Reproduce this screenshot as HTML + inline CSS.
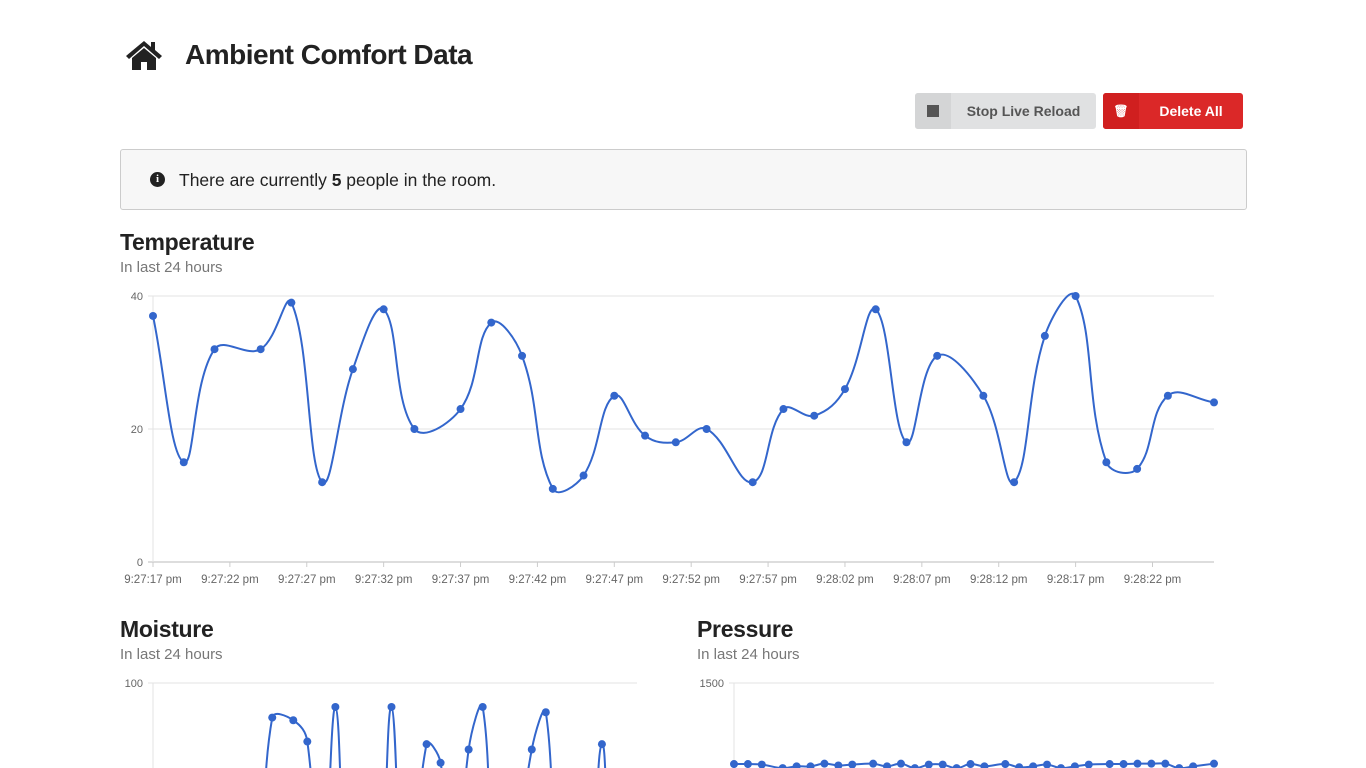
<!DOCTYPE html>
<html><head><meta charset="utf-8"><style>
html,body{margin:0;padding:0;width:1366px;height:768px;overflow:hidden;background:#fff;font-family:"Liberation Sans",sans-serif;color:#222}
.abs{position:absolute}
h1{position:absolute;left:185px;top:39px;margin:0;font-size:28px;font-weight:bold;letter-spacing:-0.5px}
.btn{position:absolute;top:93px;height:36px;border-radius:3px;font-size:14px;font-weight:bold;display:flex;align-items:center}
.info{position:absolute;left:120px;top:149px;width:1125px;height:59px;background:#f7f7f7;border:1px solid #ccc;border-radius:3px}
.ttl{position:absolute;font-size:23px;font-weight:bold;margin:0;letter-spacing:-0.3px}
.sub{position:absolute;font-size:15px;color:#777}
</style></head><body>
<svg class="abs" style="left:125px;top:39px" width="38" height="32" viewBox="0 0 38 32"><path d="M19 2 L1 17 L4 20 L19 7 L34 20 L37 17 L30 11 L30 3 L26 3 L26 8 Z" fill="#222"/><path d="M7 19 L19 9 L31 19 L31 31 L22 31 L22 23 L16 23 L16 31 L7 31 Z" fill="#222"/></svg>
<h1>Ambient Comfort Data</h1>
<div class="btn" style="left:915px;width:181px;background:#e0e1e2;color:#555"><div style="width:36px;height:36px;background:#d4d5d6;border-radius:3px 0 0 3px;display:flex;align-items:center;justify-content:center"><div style="width:12px;height:12px;background:#555"></div></div><span style="flex:1;text-align:center">Stop Live Reload</span></div>
<div class="btn" style="left:1103px;width:140px;background:#db2828;color:#fff"><div style="width:36px;height:36px;background:#d01f1f;border-radius:3px 0 0 3px;display:flex;align-items:center;justify-content:center;font-size:12px">🗑</div><span style="flex:1;text-align:center">Delete All</span></div>
<div class="info"><div style="position:absolute;left:29px;top:22px;width:15px;height:15px;border-radius:50%;background:#222;color:#fff;font-size:11px;font-weight:bold;text-align:center;line-height:15px;font-family:'Liberation Serif',serif">i</div><div style="position:absolute;left:58px;top:20px;font-size:17.5px">There are currently <b>5</b> people in the room.</div></div>
<div class="ttl" style="left:120px;top:229px">Temperature</div>
<div class="sub" style="left:120px;top:259px">In last 24 hours</div>
<div class="ttl" style="left:120px;top:616px">Moisture</div>
<div class="sub" style="left:120px;top:646px">In last 24 hours</div>
<div class="ttl" style="left:697px;top:616px">Pressure</div>
<div class="sub" style="left:697px;top:646px">In last 24 hours</div>
<svg id="charts" class="abs" style="left:0;top:0;overflow:hidden" width="1366" height="768"></svg>
<script>
const times=[0,2,4,7,9,11,13,15,17,20,22,24,26,28,30,32,34,36,39,41,43,45,47,49,51,54,56,58,60,62,64,66,69];
const tempValues=[37,15,32,32,39,12,29,38,20,23,36,31,11,13,25,19,18,20,12,23,22,26,38,18,31,25,12,34,40,15,14,25,24];
const moistureValues=[10,20,5,15,10,25,5,10,87,86,78,10,91,5,20,10,91,5,77,70,15,75,91,10,20,75,89,5,15,10,77,20,15];
const pressureValues=[1043,1043,1040,1020,1030,1030,1045,1035,1040,1045,1030,1045,1020,1040,1040,1020,1043,1030,1043,1025,1030,1040,1020,1030,1040,1043,1043,1045,1045,1045,1020,1030,1045];
const tempTicks=["9:27:17 pm","9:27:22 pm","9:27:27 pm","9:27:32 pm","9:27:37 pm","9:27:42 pm","9:27:47 pm","9:27:52 pm","9:27:57 pm","9:28:02 pm","9:28:07 pm","9:28:12 pm","9:28:17 pm","9:28:22 pm"];
const tempY=[0,20,40], moistY=[100], pressY=[1500];
const NS="http://www.w3.org/2000/svg", svg=document.getElementById('charts');
function el(t,a,p){const e=document.createElementNS(NS,t);for(const k in a)e.setAttribute(k,a[k]);(p||svg).appendChild(e);return e;}
function chart(name,x0,x1,yTop,yBot,max,vals,yt,xt){
  const g=el('g',{});
  
  
  const tmax=times[times.length-1];
  const X=t=>x0+(x1-x0)*t/tmax, Y=v=>yBot-(yBot-yTop)*v/max;
  yt.forEach(v=>{el('line',{x1:x0-5,x2:x1,y1:Y(v),y2:Y(v),stroke:v===0?'#bbb':'#e3e3e3'},g);
    const t=el('text',{x:x0-10,y:Y(v)+4,'text-anchor':'end','font-size':11,fill:'#666'},g);t.textContent=v;
    });
  el('line',{x1:x0,x2:x0,y1:yTop,y2:yBot+5,stroke:'#e3e3e3'},g);
  if(xt){xt.forEach((s,i)=>{const x=X(i*5);el('line',{x1:x,x2:x,y1:yBot,y2:yBot+5,stroke:'#ccc'},g);
    const t=el('text',{x:x,y:yBot+21,'text-anchor':'middle','font-size':11.5,fill:'#666'},g);t.textContent=s;
    });}
  const P=vals.map((v,i)=>[X(times[i]),Y(v)]);
  let d='M'+P[0][0]+','+P[0][1];const k=0.4;
  const cp=P.map((p,i)=>{const a=P[Math.max(i-1,0)],c=P[Math.min(i+1,P.length-1)];
    const d01=Math.hypot(p[0]-a[0],p[1]-a[1]),d12=Math.hypot(c[0]-p[0],c[1]-p[1]);
    let fa=d01/(d01+d12||1),fb=d12/(d01+d12||1);
    return {px:p[0]-k*fa*(c[0]-a[0]),py:p[1]-k*fa*(c[1]-a[1]),nx:p[0]+k*fb*(c[0]-a[0]),ny:p[1]+k*fb*(c[1]-a[1])};});
  for(let i=1;i<P.length;i++)d+=` C${cp[i-1].nx},${cp[i-1].ny} ${cp[i].px},${cp[i].py} ${P[i][0]},${P[i][1]}`;
  const path=el('path',{d:d,fill:'none',stroke:'#3366cc','stroke-width':2},g);
  
  P.forEach(p=>{const c=el('circle',{cx:p[0],cy:p[1],r:4,fill:'#3366cc'},g);
    });
}
chart('temperature',153,1214,296,562,40,tempValues,tempY,tempTicks);
chart('moisture',153,637,683,949,100,moistureValues,moistY,null);
chart('pressure',734,1214,683,949,1500,pressureValues,pressY,null);
</script>
</body></html>
